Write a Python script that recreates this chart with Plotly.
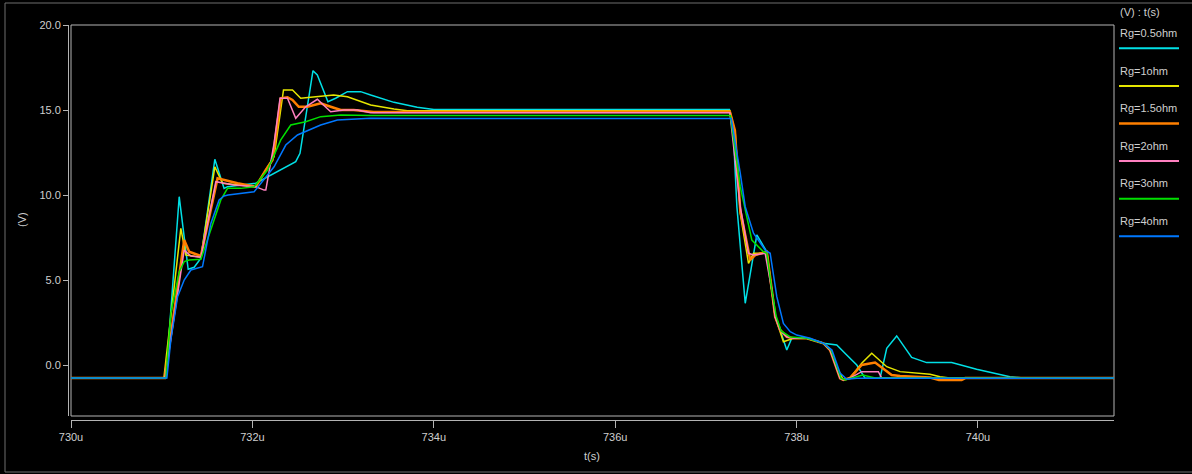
import plotly.graph_objects as go

# ---------------- data (time in microseconds, voltage in V) ----------------
series_names = ["Rg=0.5ohm", "Rg=1ohm", "Rg=1.5ohm", "Rg=2ohm", "Rg=3ohm", "Rg=4ohm"]
series_colors = ["#00e0e6", "#e6e600", "#ff7f00", "#ff80c0", "#00e000", "#0078ff"]
series_widths = [1.5, 1.5, 2.5, 1.5, 1.5, 1.5]

t_05 = [730.0, 731.03, 731.046, 731.193, 731.292, 731.358, 731.432, 731.586, 731.688, 731.726,
        732.037, 732.478, 732.525, 732.668, 732.716, 732.833, 732.918, 733.048, 733.194, 733.304,
        733.561, 733.817, 734.001, 737.26, 737.305, 737.342, 737.434, 737.562, 737.672, 737.727,
        737.764, 737.819, 737.892, 737.947, 738.113, 738.296, 738.443, 738.553, 738.664, 738.755,
        738.921, 738.994, 739.104, 739.269, 739.434, 739.710, 739.985, 740.352, 740.5, 741.5]
v_05 = [-0.77, -0.77, -0.77, 9.9, 5.63, 5.75, 6.28, 12.1, 10.39, 10.49,
        10.69, 11.96, 12.45, 17.31, 17.06, 15.49, 15.69, 16.08, 16.08, 15.88,
        15.45, 15.16, 15.03, 15.03, 13.4, 9.31, 3.63, 7.65, 6.66, 4.41,
        2.84, 2.06, 0.88, 1.57, 1.57, 1.28, 1.18, 0.59, 0.0, -0.78,
        -0.76, 0.98, 1.71, 0.45, 0.14, 0.14, -0.25, -0.69, -0.77, -0.77]

t_1 = [730.0, 731.024, 731.211, 731.267, 731.432, 731.586, 731.671, 731.872, 732.037, 732.167,
       732.239, 732.343, 732.442, 732.533, 732.753, 732.896, 733.048, 733.304, 733.561, 733.708,
       737.265, 737.324, 737.379, 737.470, 737.525, 737.580, 737.672, 737.727, 737.764, 737.855,
       737.965, 738.113, 738.296, 738.370, 738.443, 738.516, 738.590, 738.718, 738.829, 738.994,
       739.141, 739.471, 739.581, 739.69, 741.5]
v_1 = [-0.77, -0.77, 8.04, 6.47, 6.34, 11.66, 10.69, 10.59, 10.49, 11.66,
       12.25, 16.18, 16.18, 15.69, 15.78, 15.88, 15.78, 15.29, 15.06, 14.96,
       14.96, 13.65, 8.92, 5.98, 6.57, 6.57, 6.66, 4.41, 2.84, 1.37,
       1.57, 1.57, 1.28, 0.88, -0.1, -0.88, -0.76, 0.1, 0.69, -0.1,
       -0.39, -0.55, -0.69, -0.77, -0.77]

t_15 = [730.0, 731.035, 731.248, 731.303, 731.432, 731.616, 731.836, 732.037, 732.148, 732.222,
        732.313, 732.387, 732.442, 732.511, 732.607, 732.753, 732.863, 732.974, 733.117, 733.337,
        737.265, 737.32, 737.379, 737.489, 737.544, 737.672, 737.727, 737.764, 737.819, 737.892,
        737.965, 738.113, 738.296, 738.370, 738.480, 738.516, 738.590, 738.718, 738.866, 739.049,
        739.141, 739.47, 739.57, 739.82, 739.86, 741.5]
v_15 = [-0.77, -0.77, 7.35, 6.66, 6.41, 10.98, 10.69, 10.49, 11.47, 12.06,
        15.69, 15.75, 15.59, 15.19, 15.19, 15.39, 15.19, 15.0, 15.0, 14.88,
        14.9, 13.8, 9.12, 6.18, 6.47, 6.66, 4.41, 2.84, 2.06, 1.66,
        1.57, 1.57, 1.28, 0.88, -0.78, -0.88, -0.76, 0.0, 0.14, -0.59,
        -0.65, -0.74, -0.88, -0.88, -0.77, -0.77]

t_2 = [730.0, 731.035, 731.248, 731.322, 731.432, 731.597, 731.795, 732.037, 732.129, 732.148,
       732.239, 732.305, 732.387, 732.478, 732.588, 732.716, 732.863, 733.010, 733.157, 733.304,
       737.265, 737.379, 737.470, 737.525, 737.654, 737.727, 737.764, 737.819, 737.892, 737.965,
       738.113, 738.296, 738.370, 738.480, 738.516, 738.590, 738.718, 738.902, 738.939, 741.5]
v_2 = [-0.77, -0.77, 6.76, 6.41, 6.34, 10.78, 10.59, 10.49, 10.29, 10.29,
       13.04, 15.69, 15.69, 14.51, 15.19, 15.63, 14.9, 15.0, 15.0, 14.84,
       14.84, 9.31, 6.57, 6.47, 6.57, 4.41, 2.84, 2.06, 1.66, 1.57,
       1.57, 1.28, 0.88, -0.78, -0.88, -0.77, -0.39, -0.39, -0.77, -0.77]

t_3 = [730.0, 731.046, 731.101, 731.193, 731.248, 731.303, 731.432, 731.652, 731.726, 731.872,
       732.019, 732.167, 732.313, 732.423, 732.588, 732.753, 732.974, 733.304, 737.27, 737.379,
       737.507, 737.635, 737.672, 737.727, 737.775, 737.83, 737.93, 738.113, 738.296, 738.38,
       738.49, 738.535, 738.61, 738.73, 738.866, 741.5]
v_3 = [-0.77, -0.77, 3.06, 5.47, 6.08, 6.18, 6.22, 9.71, 10.39, 10.39,
       10.49, 11.47, 13.24, 14.12, 14.31, 14.61, 14.71, 14.67, 14.67, 10.49,
       7.35, 6.66, 6.57, 4.41, 2.88, 2.0, 1.65, 1.57, 1.28, 0.88,
       -0.77, -0.88, -0.76, -0.59, -0.77, -0.77]

t_4 = [730.0, 731.057, 731.101, 731.175, 731.248, 731.322, 731.450, 731.542, 731.633, 731.688,
       731.732, 732.019, 732.239, 732.368, 732.497, 732.753, 732.937, 733.304, 733.817, 737.28,
       737.379, 737.434, 737.525, 737.580, 737.654, 737.709, 737.782, 737.855, 737.930, 738.002,
       738.150, 738.296, 738.39, 738.48, 738.553, 738.664, 741.5]
v_4 = [-0.77, -0.77, 1.47, 4.02, 5.0, 5.59, 5.78, 8.33, 9.71, 9.94,
       10.0, 10.19, 11.66, 12.94, 13.53, 14.12, 14.41, 14.51, 14.5, 14.5,
       11.28, 9.31, 7.75, 7.35, 6.76, 6.57, 4.02, 2.45, 1.96, 1.76,
       1.57, 1.28, 0.88, -0.47, -0.84, -0.78, -0.77]

series_t = [t_05, t_1, t_15, t_2, t_3, t_4]
series_v = [v_05, v_1, v_15, v_2, v_3, v_4]

x_tick_vals = [730, 732, 734, 736, 738, 740]
x_tick_text = ["730u", "732u", "734u", "736u", "738u", "740u"]
y_tick_vals = [0, 5, 10, 15, 20]
y_tick_text = ["0.0", "5.0", "10.0", "15.0", "20.0"]
legend_title = "(V) : t(s)"
x_title = "t(s)"
y_title = "(V)"

# ---------------- layout geometry (pixels) ----------------
W, H = 1192, 474
ML, MR, MT, MB = 68, 78, 25, 54
PW, PH = W - ML - MR, H - MT - MB
XD0 = 3 / PW          # plot box starts 3px right of the y axis line
YD0 = 4 / PH          # plot box ends 4px above the x axis line
TXT = "#cfcfcf"
AX = "#b4b4b4"
FONT = "Liberation Sans, Arial, sans-serif"


def px_x(px):
    return (px - ML) / PW


def px_y(py):
    return (H - MB - py) / PH


fig = go.Figure()
for name, col, wd, tt, vv in zip(series_names, series_colors, series_widths, series_t, series_v):
    fig.add_trace(go.Scatter(x=tt, y=vv, mode="lines", name=name,
                             line=dict(color=col, width=wd), showlegend=False,
                             hoverinfo="skip"))

shapes = [
    # plot frame
    dict(type="rect", xref="paper", yref="paper", x0=XD0, x1=1, y0=YD0, y1=1,
         line=dict(color=AX, width=1), layer="below"),
    # outer window border
    dict(type="rect", xref="paper", yref="paper", x0=px_x(5), x1=px_x(1195),
         y0=px_y(472), y1=px_y(3), line=dict(color="#6e6e6e", width=1), layer="below"),
]
annotations = [
    dict(text=legend_title, xref="paper", yref="paper", x=px_x(1118), y=px_y(12),
         xanchor="left", yanchor="middle", showarrow=False, font=dict(color=TXT, size=11, family=FONT)),
    dict(text=x_title, xref="paper", yref="paper", x=px_x(592), y=px_y(456),
         xanchor="center", yanchor="middle", showarrow=False, font=dict(color=TXT, size=11, family=FONT)),
    dict(text=y_title, xref="paper", yref="paper", x=px_x(22), y=px_y(220), textangle=-90,
         xanchor="center", yanchor="middle", showarrow=False, font=dict(color=TXT, size=11, family=FONT)),
]
for i, (name, col, wd) in enumerate(zip(series_names, series_colors, series_widths)):
    ty = 33 + i * 37.6
    ly = 48.3 + i * 37.6
    annotations.append(dict(text=name, xref="paper", yref="paper", x=px_x(1118), y=px_y(ty),
                            xanchor="left", yanchor="middle", showarrow=False,
                            font=dict(color=TXT, size=11, family=FONT)))
    shapes.append(dict(type="line", xref="paper", yref="paper", x0=px_x(1119), x1=px_x(1179),
                       y0=px_y(ly), y1=px_y(ly), line=dict(color=col, width=wd if wd > 2 else 2)))

fig.update_layout(
    width=W, height=H,
    margin=dict(l=ML, r=MR, t=MT, b=MB, pad=0),
    paper_bgcolor="black", plot_bgcolor="black",
    font=dict(family=FONT, size=11, color=TXT),
    shapes=shapes, annotations=annotations,
    xaxis=dict(domain=[XD0, 1], range=[730, 741.5], anchor="free", position=0,
               tickvals=x_tick_vals, ticktext=x_tick_text, ticks="outside", ticklen=7,
               tickcolor=AX, showline=True, linecolor=AX, linewidth=1, showgrid=False,
               zeroline=False, tickfont=dict(color=TXT, size=11)),
    yaxis=dict(domain=[YD0, 1], range=[-3, 20], anchor="free", position=0,
               tickvals=y_tick_vals, ticktext=y_tick_text, ticks="outside", ticklen=5,
               tickcolor=AX, showline=True, linecolor=AX, linewidth=1, showgrid=False,
               zeroline=False, tickfont=dict(color=TXT, size=11)),
)

fig.write_html("out.html", config={"displayModeBar": False},
               post_script="document.body.style.margin='0';document.body.style.background='black';")
